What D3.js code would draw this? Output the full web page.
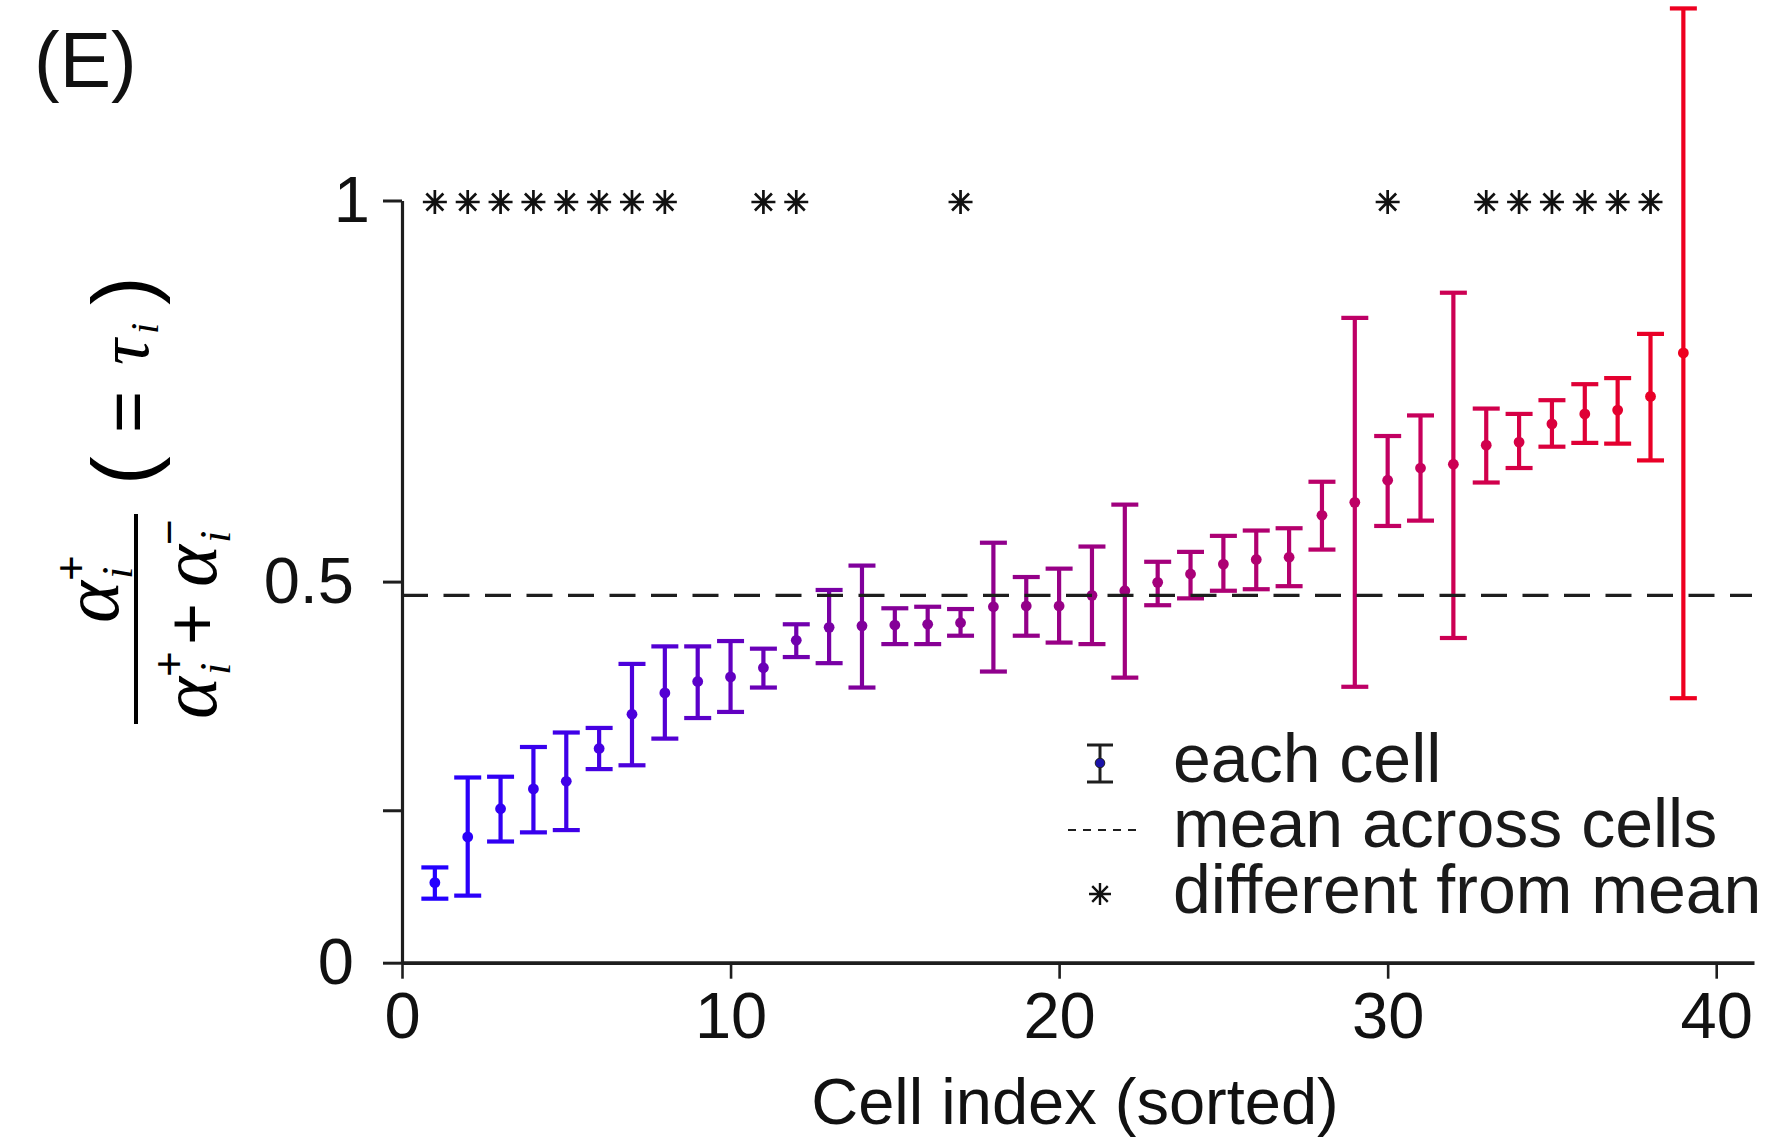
<!DOCTYPE html>
<html>
<head>
<meta charset="utf-8">
<script src="https://cdn.jsdelivr.net/npm/d3@7"></script>
<style>
  html, body { margin: 0; padding: 0; background: #fff; }
  svg { display: block; }
  .sans { font-family: "Liberation Sans", Arial, Helvetica, sans-serif; }
  .serif { font-family: "Liberation Serif", "Times New Roman", serif; font-style: italic; }
</style>
</head>
<body>
<svg id="chart" width="1782" height="1145"></svg>
<script>
// Cell index (sorted by tau)
const cells = d3.range(1, 40);
// Estimated tau_i per cell
const tauMean = [0.105, 0.165, 0.202, 0.228, 0.238, 0.281, 0.326, 0.354, 0.369, 0.375,
                 0.387, 0.423, 0.440, 0.442, 0.443, 0.444, 0.446, 0.467, 0.468, 0.468,
                 0.482, 0.488, 0.499, 0.510, 0.523, 0.529, 0.532, 0.587, 0.604, 0.633,
                 0.649, 0.654, 0.679, 0.683, 0.707, 0.720, 0.725, 0.743, 0.800];
// Upper and lower ends of each error bar
const tauUpper = [0.125, 0.243, 0.244, 0.283, 0.302, 0.308, 0.392, 0.415, 0.415, 0.422,
                  0.412, 0.444, 0.489, 0.521, 0.465, 0.467, 0.464, 0.551, 0.506, 0.517,
                  0.546, 0.601, 0.526, 0.539, 0.560, 0.567, 0.570, 0.631, 0.846, 0.691,
                  0.718, 0.879, 0.727, 0.720, 0.738, 0.759, 0.767, 0.825, 1.252];
const tauLower = [0.084, 0.088, 0.159, 0.171, 0.174, 0.254, 0.259, 0.294, 0.321, 0.329,
                  0.361, 0.401, 0.393, 0.361, 0.418, 0.418, 0.429, 0.382, 0.429, 0.420,
                  0.418, 0.374, 0.469, 0.478, 0.488, 0.490, 0.494, 0.542, 0.362, 0.573,
                  0.580, 0.426, 0.630, 0.649, 0.677, 0.682, 0.681, 0.659, 0.347];
// Cells significantly different from the population mean
const starCells = [1, 2, 3, 4, 5, 6, 7, 8, 11, 12, 17, 30, 33, 34, 35, 36, 37, 38];
// Mean across cells
const meanTau = 0.482;
// Axis ticks
const xTicks = [0, 10, 20, 30, 40];
const yTicks = [0, 0.2, 0.5, 1];
const yTickLabels = ["0", "", "0.5", "1"];
const legendLabels = ["each cell", "mean across cells", "different from mean"];

const svg = d3.select("#chart");
const ink = "#1e1e1e";

const x = d3.scaleLinear().domain([0, 41.15]).range([402, 1754]);
const y = d3.scaleLinear().domain([0, 1]).range([962.7, 200.5]);
// blue -> purple -> red along the sorted index
const color = d3.scaleLinear().domain([1, 7, 14, 22, 30, 39])
  .range(["#2400ff", "#4c00dc", "#80009c", "#a0007e", "#c20062", "#ee0020"])
  .interpolate(d3.interpolateRgb);

// Axes
const xAxis = svg.append("g")
  .attr("transform", `translate(0,${y(0)})`)
  .call(d3.axisBottom(x).tickValues(xTicks).tickSize(16).tickSizeOuter(0).tickPadding(13));
xAxis.select(".domain").attr("stroke", ink).attr("stroke-width", 3.8);
xAxis.selectAll(".tick line").attr("stroke", ink).attr("stroke-width", 2.6);
xAxis.selectAll(".tick text").attr("class", "sans").attr("font-size", 65).attr("fill", "#111");

const yAxis = svg.append("g")
  .attr("transform", `translate(${x(0)},0)`)
  .call(d3.axisLeft(y).tickValues(yTicks).tickSize(19).tickSizeOuter(0).tickPadding(29)
    .tickFormat((d, i) => yTickLabels[i]));
yAxis.select(".domain").attr("stroke", ink).attr("stroke-width", 3.2);
yAxis.selectAll(".tick line").attr("stroke", ink).attr("stroke-width", 3);
yAxis.selectAll(".tick text").attr("class", "sans").attr("font-size", 65).attr("fill", "#111")
  .attr("dx", d => d === 1 ? 16 : 0);

// Error bars per cell
const bars = svg.append("g").selectAll("g.bar").data(cells).join("g").attr("class", "bar");
const capHalf = 13.5;
const barWidth = 4.2;
bars.append("line")
  .attr("x1", d => x(d)).attr("x2", d => x(d))
  .attr("y1", (d, i) => y(tauLower[i])).attr("y2", (d, i) => y(tauUpper[i]))
  .attr("stroke", d => color(d)).attr("stroke-width", barWidth);
bars.append("line")
  .attr("x1", d => x(d) - capHalf).attr("x2", d => x(d) + capHalf)
  .attr("y1", (d, i) => y(tauUpper[i])).attr("y2", (d, i) => y(tauUpper[i]))
  .attr("stroke", d => color(d)).attr("stroke-width", barWidth);
bars.append("line")
  .attr("x1", d => x(d) - capHalf).attr("x2", d => x(d) + capHalf)
  .attr("y1", (d, i) => y(tauLower[i])).attr("y2", (d, i) => y(tauLower[i]))
  .attr("stroke", d => color(d)).attr("stroke-width", barWidth);
bars.append("circle")
  .attr("cx", d => x(d)).attr("cy", (d, i) => y(tauMean[i])).attr("r", 5.4)
  .attr("fill", d => color(d));

// Mean line
svg.append("line")
  .attr("x1", x(0)).attr("x2", 1752)
  .attr("y1", y(meanTau)).attr("y2", y(meanTau))
  .attr("stroke", ink).attr("stroke-width", 3.2).attr("stroke-dasharray", "26,15.5");

// Asterisk marker path (plus and cross)
function starPath(r) {
  const d = r * Math.SQRT1_2;
  return `M${-r},0L${r},0M0,${-r}L0,${r}M${-d},${-d}L${d},${d}M${-d},${d}L${d},${-d}`;
}
svg.append("g").selectAll("path").data(starCells).join("path")
  .attr("transform", d => `translate(${x(d)},${y(1) + 1.5})`)
  .attr("d", starPath(12))
  .attr("fill", "none").attr("stroke", "#111").attr("stroke-width", 2.7);

// Legend
const lg = svg.append("g");
const lx = 1100;
lg.append("line").attr("x1", lx).attr("x2", lx).attr("y1", 744).attr("y2", 783)
  .attr("stroke", ink).attr("stroke-width", 3);
lg.append("line").attr("x1", lx - 13).attr("x2", lx + 13).attr("y1", 745).attr("y2", 745)
  .attr("stroke", ink).attr("stroke-width", 3);
lg.append("line").attr("x1", lx - 13).attr("x2", lx + 13).attr("y1", 782).attr("y2", 782)
  .attr("stroke", ink).attr("stroke-width", 3);
lg.append("circle").attr("cx", lx).attr("cy", 763).attr("r", 4.8)
  .attr("fill", "#1a12a8").attr("stroke", ink).attr("stroke-width", 1);
lg.append("line").attr("x1", 1068).attr("x2", 1136).attr("y1", 830).attr("y2", 830)
  .attr("stroke", ink).attr("stroke-width", 2).attr("stroke-dasharray", "8,7");
lg.append("path").attr("transform", "translate(1100,894)").attr("d", starPath(11))
  .attr("fill", "none").attr("stroke", "#111").attr("stroke-width", 2.4);
lg.selectAll("text").data(legendLabels).join("text")
  .attr("class", "sans").attr("x", 1173).attr("y", (d, i) => [782, 847, 913][i])
  .attr("font-size", 68).attr("fill", "#1a1a1a").text(d => d);

// Panel label
svg.append("text").attr("class", "sans").attr("x", 34).attr("y", 87)
  .attr("font-size", 77).attr("fill", "#111").text("(E)");

// X axis title
svg.append("text").attr("class", "sans").attr("x", 1075).attr("y", 1124)
  .attr("text-anchor", "middle").attr("font-size", 65).attr("fill", "#111")
  .text("Cell index (sorted)");

// Y axis title: alpha+ / (alpha+ + alpha-)  ( = tau_i )
const yl = svg.append("g").attr("transform", "translate(136,619) rotate(-90)");
yl.append("line").attr("x1", -105).attr("x2", 105).attr("y1", 0).attr("y2", 0)
  .attr("stroke", "#000").attr("stroke-width", 4);
function piece(txt, px, py, size, cls) {
  yl.append("text").attr("class", cls).attr("x", px).attr("y", py)
    .attr("font-size", size).attr("fill", "#000").text(txt);
}
// numerator
piece("α", -4, -18, 80, "serif");
piece("i", 40, -4, 44, "serif");
piece("+", 38, -50, 44, "sans");
// denominator
piece("α", -100, 80, 80, "serif");
piece("i", -56, 94, 44, "serif");
piece("+", -58, 48, 44, "sans");
piece("+", -26, 80, 72, "sans");
piece("α", 32, 80, 80, "serif");
piece("i", 76, 94, 44, "serif");
piece("−", 74, 48, 44, "sans");
// ( = tau_i )
piece("(", 134, 16, 86, "sans");
piece("=", 186, 16, 72, "sans");
piece("τ", 254, 12, 72, "serif");
piece("i", 285, 22, 40, "serif");
piece(")", 314, 16, 86, "sans");
</script>
</body>
</html>
